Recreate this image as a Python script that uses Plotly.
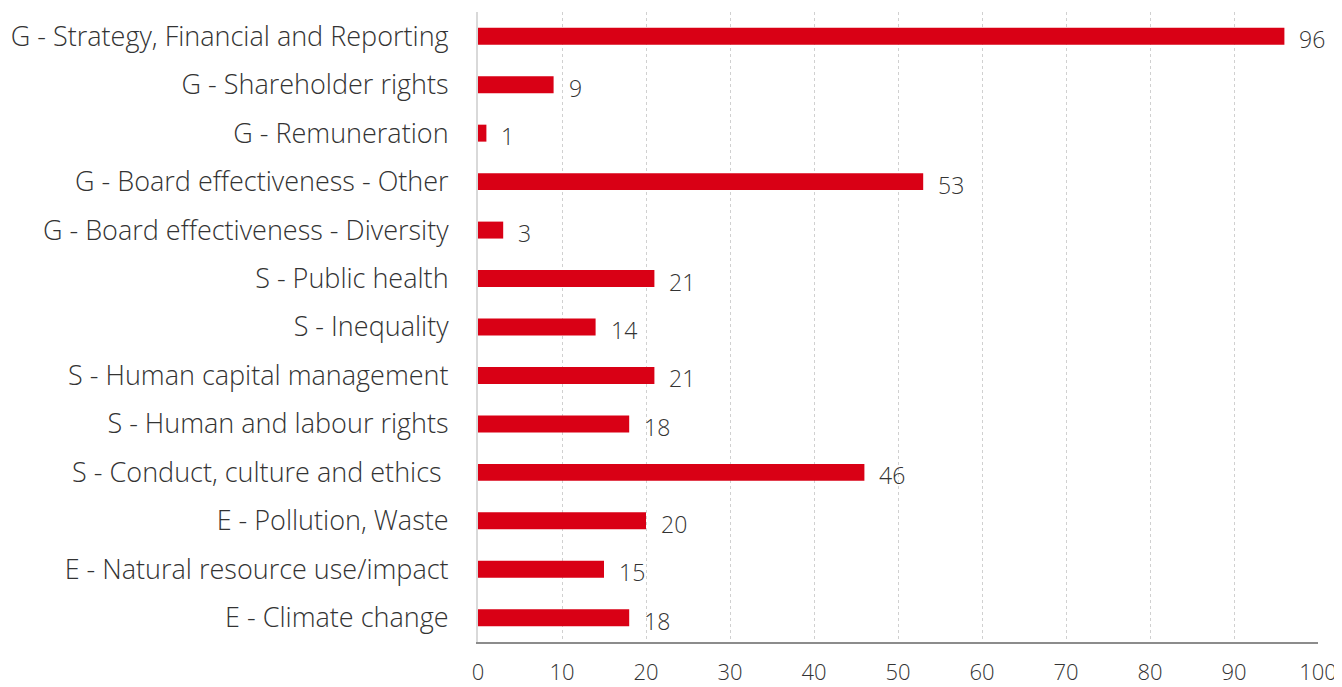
import plotly.graph_objects as go

categories = [
    "G - Strategy, Financial and Reporting",
    "G - Shareholder rights",
    "G - Remuneration",
    "G - Board effectiveness - Other",
    "G - Board effectiveness - Diversity",
    "S - Public health",
    "S - Inequality",
    "S - Human capital management",
    "S - Human and labour rights",
    "S - Conduct, culture and ethics ",
    "E - Pollution, Waste",
    "E - Natural resource use/impact",
    "E - Climate change",
]
values = [96, 9, 1, 53, 3, 21, 14, 21, 18, 46, 20, 15, 18]
x_ticks = list(range(0, 101, 10))

FONT = "Open Sans"
TXT = "#333333"
RED = "#D90015"

fig = go.Figure()
fig.add_trace(go.Bar(
    x=values, y=categories, orientation="h",
    marker=dict(color=RED, line=dict(width=0)),
    width=0.35,
    hoverinfo="x+y",
))

for c, v in zip(categories, values):
    fig.add_annotation(
        x=v, y=c, text=str(v), showarrow=False,
        xanchor="left", yanchor="middle", xshift=13, yshift=-3,
        font=dict(family=FONT, size=23, color=TXT, weight=300),
    )

fig.update_layout(
    width=1334, height=679,
    margin=dict(l=470, r=24, t=4, b=45, autoexpand=False),
    plot_bgcolor="white", paper_bgcolor="white",
    showlegend=False,
    font=dict(family=FONT, size=27, color=TXT, weight=300),
)
fig.update_yaxes(
    categoryorder="array", categoryarray=categories[::-1],
    showline=True, linecolor="#d9d9d9", linewidth=2,
    showgrid=False, ticks="", ticklabelstandoff=22,
    tickfont=dict(family=FONT, size=27, color=TXT, weight=300),
    fixedrange=True,
)
fig.update_xaxes(
    range=[0, 100], tickvals=x_ticks, ticktext=[str(t) for t in x_ticks],
    showline=True, linecolor="#8c8c8c", linewidth=2,
    showgrid=True, gridcolor="#d0d0d0", griddash="dot", gridwidth=1,
    zeroline=False, ticks="", ticklabelstandoff=10,
    tickfont=dict(family=FONT, size=22, color=TXT, weight=300),
    fixedrange=True,
)

fig.write_html("out.html")
